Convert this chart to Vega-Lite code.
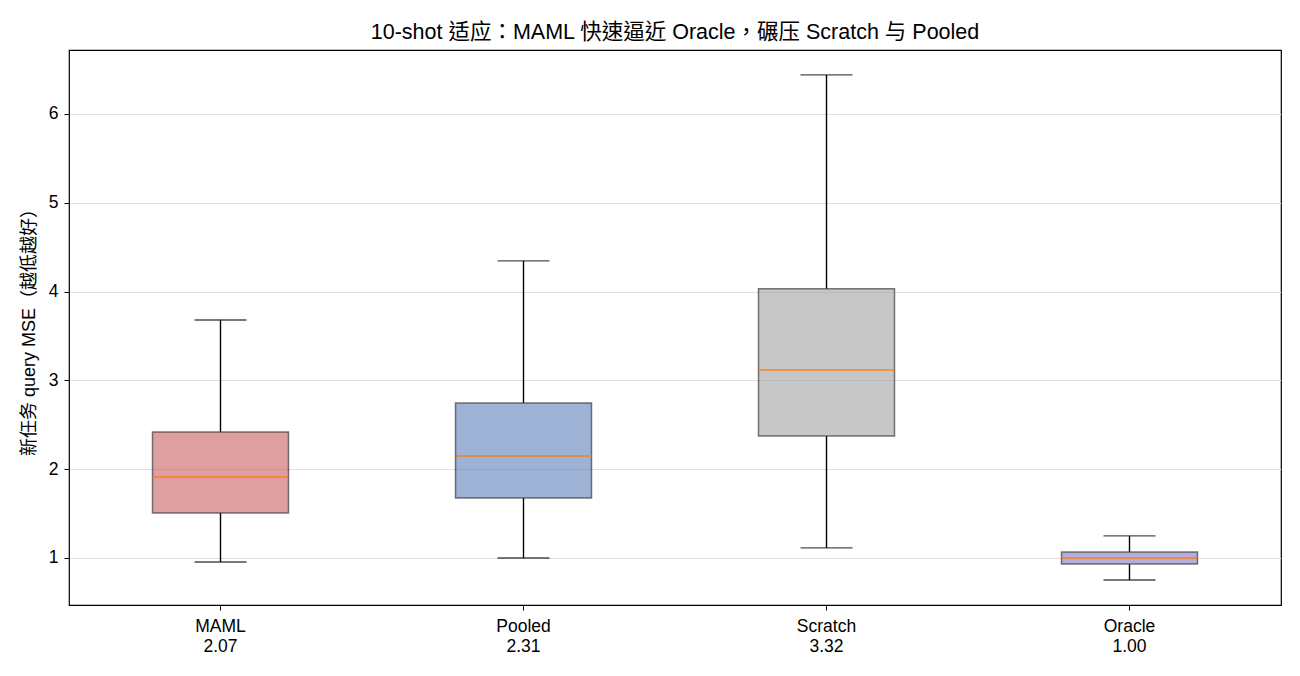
{
  "$schema": "https://vega.github.io/schema/vega-lite/v6.json",
  "autosize": {"type": "none"},
  "width": 1212,
  "height": 555,
  "padding": {"left": 69, "top": 50, "right": 19, "bottom": 71},
  "background": "white",
  "config": {
    "font": "Liberation Sans, Arial, Noto Sans CJK TC",
    "view": {"stroke": "black", "strokeWidth": 1.2},
    "axis": {
      "labelFont": "Liberation Sans, Arial, Noto Sans CJK TC",
      "titleFont": "Liberation Sans, Arial, Noto Sans CJK TC",
      "labelColor": "black",
      "titleColor": "black",
      "tickColor": "black",
      "domain": false,
      "labelFontSize": 17.5,
      "titleFontSize": 18,
      "titleFontWeight": "normal"
    }
  },
  "title": {
    "text": "10-shot 适应：MAML 快速逼近 Oracle，碾压 Scratch 与 Pooled",
    "font": "Liberation Sans, Arial, Noto Sans CJK TC",
    "fontSize": 21.5,
    "fontWeight": "normal",
    "color": "black",
    "offset": 7
  },
  "data": {
    "values": [
      {"label": "MAML|2.07", "group": "MAML", "low": 0.955, "q1": 1.507, "median": 1.912, "q3": 2.419, "high": 3.68},
      {"label": "Pooled|2.31", "group": "Pooled", "low": 1.0, "q1": 1.676, "median": 2.149, "q3": 2.745, "high": 4.345},
      {"label": "Scratch|3.32", "group": "Scratch", "low": 1.113, "q1": 2.374, "median": 3.117, "q3": 4.03, "high": 6.44},
      {"label": "Oracle|1.00", "group": "Oracle", "low": 0.752, "q1": 0.932, "median": 1.0, "q3": 1.068, "high": 1.248}
    ]
  },
  "encoding": {
    "x": {
      "field": "label",
      "type": "nominal",
      "sort": null,
      "scale": {"paddingInner": 0, "paddingOuter": 0},
      "axis": {
        "title": null,
        "labelAngle": 0,
        "labelExpr": "split(datum.label, '|')",
        "labelLineHeight": 20,
        "labelPadding": 7,
        "tickSize": 5,
        "grid": false
      }
    }
  },
  "layer": [
    {
      "mark": {"type": "rule", "color": "black", "strokeWidth": 1.4},
      "encoding": {
        "y": {
          "field": "low",
          "type": "quantitative",
          "scale": {"domain": [0.47, 6.72], "nice": false, "zero": false},
          "axis": {
            "title": "新任务 query MSE（越低越好）",
            "values": [1, 2, 3, 4, 5, 6],
            "format": "d",
            "grid": true,
            "gridColor": "#dcdcdc",
            "gridWidth": 0.9,
            "tickSize": 5,
            "labelPadding": 6,
            "titlePadding": 10
          }
        },
        "y2": {"field": "q1"}
      }
    },
    {
      "mark": {"type": "rule", "color": "black", "strokeWidth": 1.4},
      "encoding": {
        "y": {"field": "q3", "type": "quantitative"},
        "y2": {"field": "high"}
      }
    },
    {
      "mark": {"type": "tick", "color": "black", "size": 52, "thickness": 1.4, "orient": "horizontal"},
      "encoding": {"y": {"field": "low", "type": "quantitative"}}
    },
    {
      "mark": {"type": "tick", "color": "black", "size": 52, "thickness": 1.4, "orient": "horizontal"},
      "encoding": {"y": {"field": "high", "type": "quantitative"}}
    },
    {
      "mark": {"type": "bar", "width": 136, "fillOpacity": 0.55, "stroke": "#333333", "strokeOpacity": 0.65, "strokeWidth": 1.5},
      "encoding": {
        "y": {"field": "q1", "type": "quantitative"},
        "y2": {"field": "q3"},
        "fill": {
          "field": "group",
          "type": "nominal",
          "scale": {"domain": ["MAML", "Pooled", "Scratch", "Oracle"], "range": ["#c44e52", "#4c72b0", "#999999", "#7a6cbc"]},
          "legend": null
        }
      }
    },
    {
      "mark": {"type": "tick", "color": "#ff7f0e", "size": 136, "thickness": 2, "orient": "horizontal"},
      "encoding": {"y": {"field": "median", "type": "quantitative"}}
    }
  ]
}
